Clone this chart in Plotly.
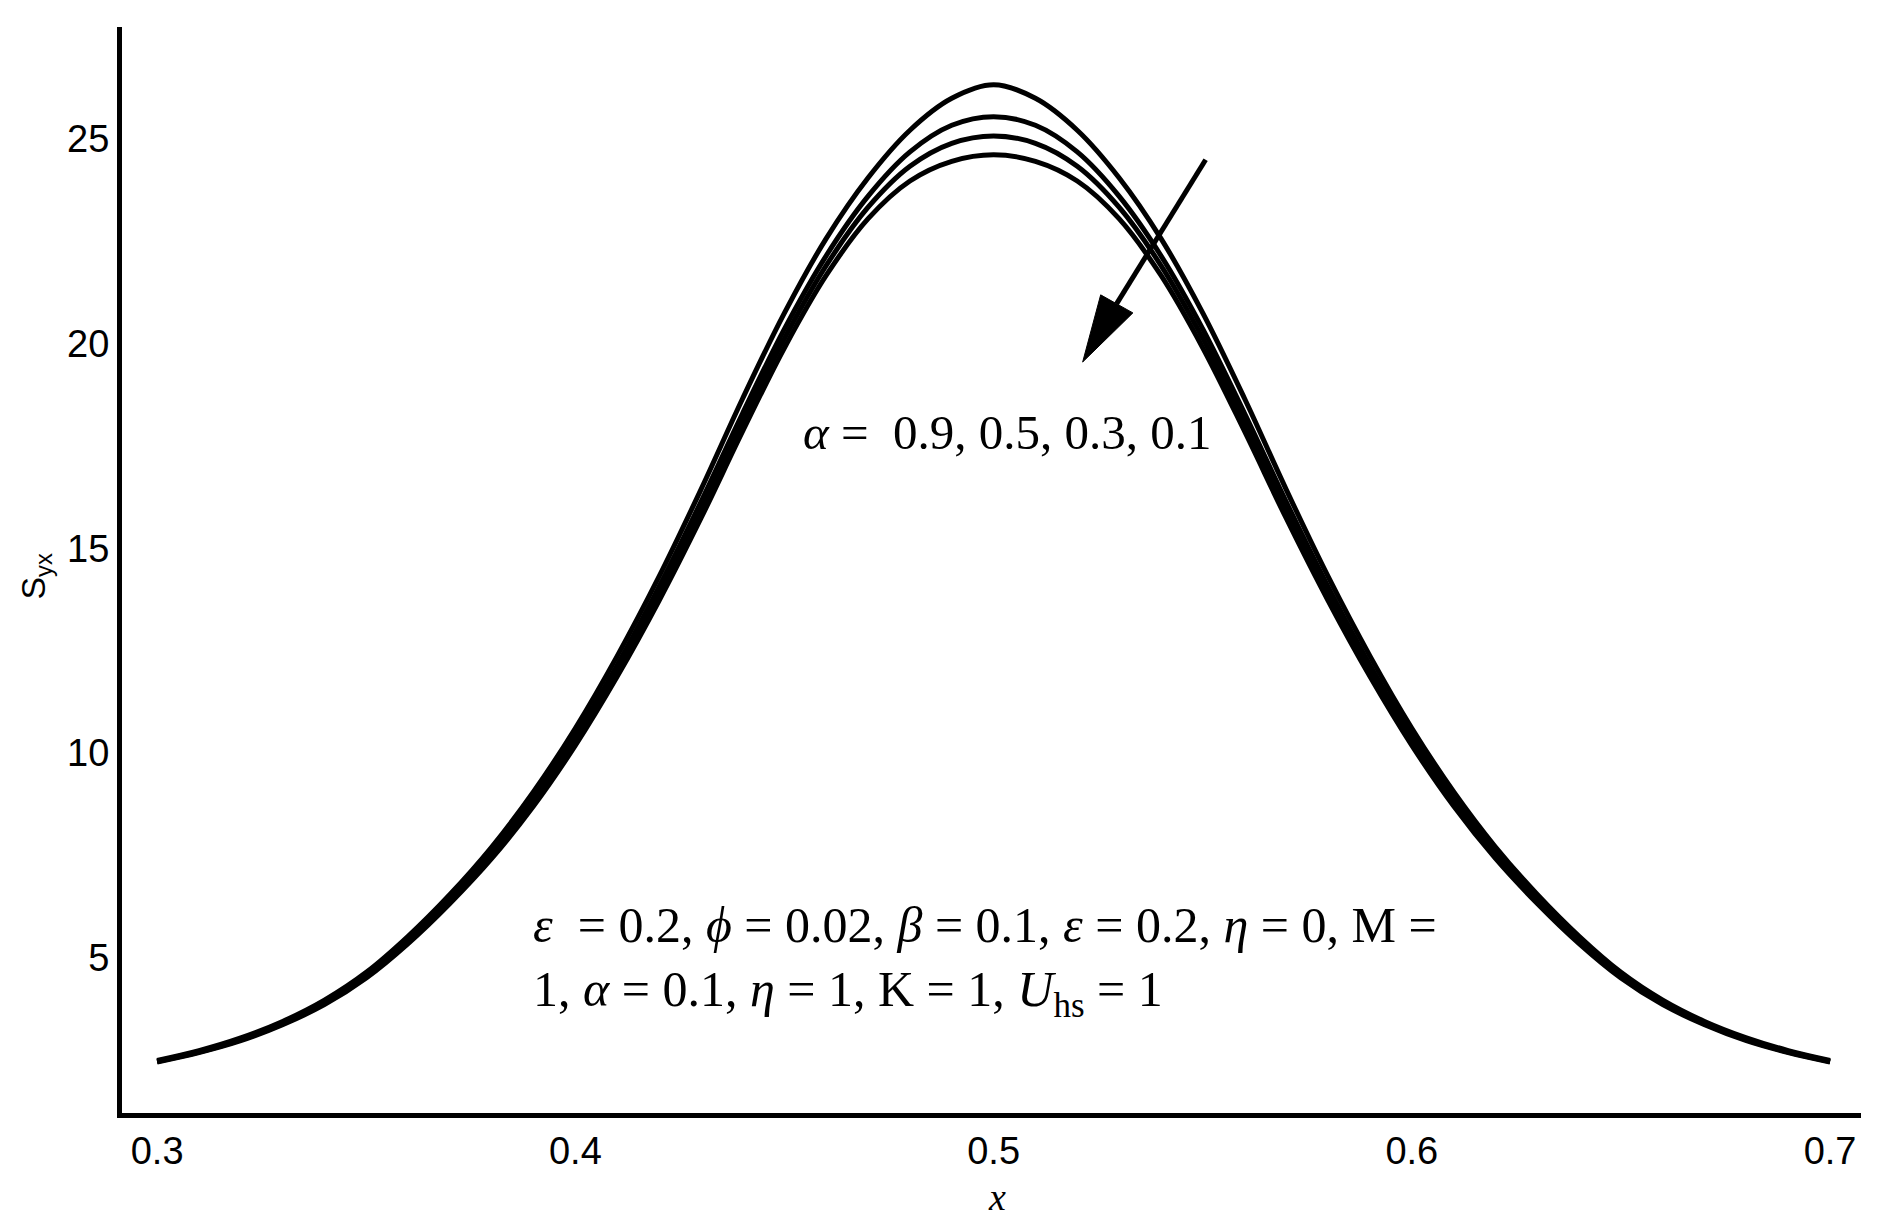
import plotly.graph_objects as go

# x positions (same for all curves)
x_vals = [0.30, 0.31, 0.32, 0.33, 0.34, 0.35, 0.36, 0.37, 0.38, 0.39, 0.40,
          0.41, 0.42, 0.43, 0.44, 0.45, 0.46, 0.47, 0.48, 0.49, 0.50,
          0.51, 0.52, 0.53, 0.54, 0.55, 0.56, 0.57, 0.58, 0.59, 0.60,
          0.61, 0.62, 0.63, 0.64, 0.65, 0.66, 0.67, 0.68, 0.69, 0.70]

# S_yx values for alpha = 0.9, 0.5, 0.3, 0.1
s_a09 = [2.50, 2.74, 3.05, 3.45, 3.97, 4.65, 5.53, 6.55, 7.71, 9.06, 10.61,
         12.37, 14.31, 16.43, 18.66, 20.75, 22.57, 24.05, 25.21, 25.99, 26.32,
         25.99, 25.21, 24.05, 22.57, 20.75, 18.66, 16.43, 14.31, 12.37, 10.61,
         9.06, 7.71, 6.55, 5.53, 4.65, 3.97, 3.45, 3.05, 2.74, 2.50]
s_a05 = [2.48, 2.72, 3.02, 3.42, 3.92, 4.59, 5.45, 6.45, 7.59, 8.91, 10.43,
         12.15, 14.06, 16.13, 18.30, 20.36, 22.15, 23.60, 24.68, 25.33, 25.54,
         25.33, 24.68, 23.60, 22.15, 20.36, 18.30, 16.13, 14.06, 12.15, 10.43,
         8.91, 7.59, 6.45, 5.45, 4.59, 3.92, 3.42, 3.02, 2.72, 2.48]
s_a03 = [2.47, 2.70, 3.00, 3.39, 3.89, 4.55, 5.40, 6.39, 7.51, 8.81, 10.31,
         12.01, 13.89, 15.93, 18.08, 20.13, 21.91, 23.33, 24.33, 24.89, 25.07,
         24.89, 24.33, 23.33, 21.91, 20.13, 18.08, 15.93, 13.89, 12.01, 10.31,
         8.81, 7.51, 6.39, 5.40, 4.55, 3.89, 3.39, 3.00, 2.70, 2.47]
s_a01 = [2.46, 2.69, 2.98, 3.37, 3.86, 4.51, 5.35, 6.33, 7.43, 8.71, 10.19,
         11.87, 13.72, 15.73, 17.86, 19.90, 21.67, 23.05, 23.97, 24.45, 24.61,
         24.45, 23.97, 23.05, 21.67, 19.90, 17.86, 15.73, 13.72, 11.87, 10.19,
         8.71, 7.43, 6.33, 5.35, 4.51, 3.86, 3.37, 2.98, 2.69, 2.46]

series = [("α = 0.9", s_a09), ("α = 0.5", s_a05), ("α = 0.3", s_a03), ("α = 0.1", s_a01)]

x_ticks = [0.3, 0.4, 0.5, 0.6, 0.7]
x_tick_text = ["0.3", "0.4", "0.5", "0.6", "0.7"]
y_ticks = [5, 10, 15, 20, 25]
y_tick_text = ["5", "10", "15", "20", "25"]

fig = go.Figure()
for name, ys in series:
    fig.add_trace(go.Scatter(x=x_vals, y=ys, mode="lines", name=name,
                             line=dict(color="black", width=5, shape="spline", smoothing=1.0),
                             showlegend=False))

SERIF = "Liberation Serif, Times New Roman, serif"
SANS = "Liberation Sans, Arial, sans-serif"

fig.update_layout(
    width=1879, height=1210,
    margin=dict(l=114, r=26, t=19, b=105),
    paper_bgcolor="white", plot_bgcolor="white",
    xaxis=dict(range=[0.2916, 0.7074], tickvals=x_ticks, ticktext=x_tick_text,
               showgrid=False, zeroline=False, showline=True, linecolor="black", linewidth=5,
               ticks="", tickfont=dict(family=SANS, size=38, color="black")),
    yaxis=dict(range=[1.215, 27.73], tickvals=y_ticks, ticktext=y_tick_text,
               showgrid=False, zeroline=False, showline=True, linecolor="black", linewidth=5,
               ticks="", tickfont=dict(family=SANS, size=38, color="black")),
)

annotations = [
    dict(text="<i>x</i>", x=0.5032, y=-0.0772, xref="paper", yref="paper",
         showarrow=False, font=dict(family=SERIF, size=38, color="black"),
         xanchor="center", yanchor="middle"),
    dict(text="S<sub>yx</sub>", x=-0.0500, y=0.4940, xref="paper", yref="paper",
         showarrow=False, textangle=-90, font=dict(family=SANS, size=34, color="black"),
         xanchor="center", yanchor="middle"),
    dict(text="<i>α</i> =\u00a0\u00a00.9, 0.5, 0.3, 0.1", x=0.3905, y=0.6262,
         xref="paper", yref="paper", showarrow=False,
         font=dict(family=SERIF, size=49, color="black"), xanchor="left", yanchor="middle"),
    dict(text="<i>ε</i>\u00a0\u00a0= 0.2, <i>ϕ</i> = 0.02, <i>β</i> = 0.1, <i>ε</i> = 0.2, <i>η</i> = 0, M =",
         x=0.2352, y=0.1731, xref="paper", yref="paper", showarrow=False,
         font=dict(family=SERIF, size=50, color="black"), xanchor="left", yanchor="middle"),
    dict(text="1, <i>α</i> = 0.1, <i>η</i> = 1, K = 1, <i>U</i><sub>hs</sub> = 1",
         x=0.2352, y=0.1105, xref="paper", yref="paper", showarrow=False,
         font=dict(family=SERIF, size=50, color="black"), xanchor="left", yanchor="middle"),
]
fig.update_layout(annotations=annotations)

# arrow showing the direction of decreasing alpha (shaft + filled head)
fig.add_shape(type="line", x0=0.5507, y0=24.49, x1=0.5294, y1=20.97,
              line=dict(color="black", width=5), xref="x", yref="y")
fig.add_shape(type="path", path="M 0.5213 19.55 L 0.5256 21.19 L 0.5333 20.75 Z",
              fillcolor="black", line=dict(color="black", width=1), xref="x", yref="y")

fig.write_html("out.html")
